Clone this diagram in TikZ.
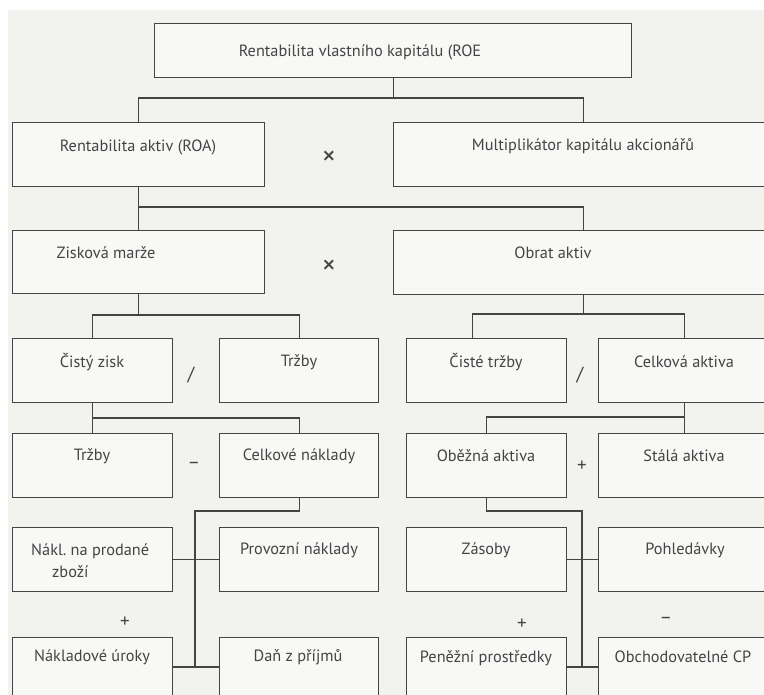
\documentclass[tikz,border=0pt]{standalone}
\usepackage{fontspec}
\setmainfont{PT Sans}
\usetikzlibrary{calc}
\definecolor{bg}{HTML}{F2F2EE}
\definecolor{boxfill}{HTML}{F8F8F6}
\definecolor{ln}{HTML}{444444}
\definecolor{txt}{HTML}{444444}
\newcommand\diabox[5]{\node[box, anchor=north west, minimum width={(#4-#2)*1pt}, minimum height={(#5-#3)*1pt}] (#1) at (#2,#3) {};}
\begin{document}
\begin{tikzpicture}[x=1pt,y=-1pt,
  box/.style={draw=ln, line width=1.2pt, fill=boxfill, inner sep=0pt},
  conn/.style={draw=ln, line width=1.1pt},
  lbl/.style={text=txt, inner sep=0pt, font=\fontsize{16.3}{22}\selectfont},
  op/.style={text=txt, inner sep=0pt, font=\fontsize{19}{22}\selectfont},
  timesop/.style={text=txt, inner sep=0pt, font=\fontsize{28}{30}\selectfont}]
\useasboundingbox (0,0) rectangle (764,695);
\fill[white] (0,0) rectangle (764,695);
\fill[bg] (8,10) rectangle (764,695);
% boxes
\diabox{roe}{154}{23}{631}{77}
\diabox{roa}{12}{122}{264}{186}
\diabox{mult}{393}{122}{773}{186}
\diabox{zm}{12}{230}{264}{293}
\diabox{oa}{393}{230}{773}{294}
\diabox{cz}{12}{338}{172}{402}
\diabox{tra}{219}{338}{378}{402}
\diabox{ct}{406}{338}{566}{402}
\diabox{ca}{598}{338}{770}{402}
\diabox{trb}{12}{433}{172}{497}
\diabox{cn}{219}{433}{378}{497}
\diabox{ob}{406}{433}{566}{497}
\diabox{st}{598}{433}{770}{497}
\diabox{nz}{12}{527}{172}{591}
\diabox{pn}{219}{527}{378}{591}
\diabox{zs}{406}{527}{566}{591}
\diabox{ph}{598}{527}{770}{591}
\diabox{nu}{12}{637}{172}{710}
\diabox{dp}{219}{637}{378}{710}
\diabox{pp}{406}{637}{566}{710}
\diabox{oc}{598}{637}{770}{710}
% texts
\node[lbl] (roe-t) at (360,52) {Rentabilita vlastního kapitálu (ROE};
\node[lbl] (roa-t) at (138,147) {Rentabilita aktiv (ROA)};
\node[lbl] (mult-t) at (583,146) {Multiplikátor kapitálu akcionářů};
\node[lbl] (zm-t) at (106,253) {Zisková marže};
\node[lbl] (oa-t) at (553,253) {Obrat aktiv};
\node[lbl] (cz-t) at (92,362) {Čistý zisk};
\node[lbl] (tra-t) at (299,362) {Tržby};
\node[lbl] (ct-t) at (486,362) {Čisté tržby};
\node[lbl] (ca-t) at (684,362) {Celková aktiva};
\node[lbl] (trb-t) at (92,456) {Tržby};
\node[lbl] (cn-t) at (299,456) {Celkové náklady};
\node[lbl] (ob-t) at (486,456) {Oběžná aktiva};
\node[lbl] (st-t) at (684,456) {Stálá aktiva};
\node[lbl, align=left, anchor=west] (nz-t) at (31,561) {Nákl.\ na prodané\\\hspace*{21pt}zboží};
\node[lbl] (pn-t) at (299,550) {Provozní náklady};
\node[lbl] (zs-t) at (486,550) {Zásoby};
\node[lbl] (ph-t) at (685,550) {Pohledávky};
\node[lbl] (nu-t) at (92,657) {Nákladové úroky};
\node[lbl] (dp-t) at (298,657) {Daň z příjmů};
\node[lbl] (pp-t) at (486,658) {Peněžní prostředky};
\node[lbl] (oc-t) at (683,657) {Obchodovatelné CP};
% operators
\node[timesop] (op1) at (329,158) {×};
\node[timesop] (op2) at (329,267) {×};
\node[op] (op3) at (191,375) {/};
\node[op] (op4) at (580,375) {/};
\node[op] (op5) at (194,465) {–};
\node[op] (op6) at (582,466) {+};
\node[op] (op7) at (125,622) {+};
\node[op] (op8) at (522,624) {+};
\node[op] (op9) at (666,620) {–};
% connectors
\coordinate (b1) at (0,98);
\coordinate (b2) at (0,207);
\coordinate (b3) at (0,315);
\coordinate (b3r) at (0,314);
\coordinate (b4) at (0,418);
\coordinate (b4r) at (0,417);
\coordinate (b5) at (0,511);
\coordinate (h6) at (0,667);
\coordinate (vl) at (195,0);
\coordinate (vr) at (582,0);
\draw[conn] (roe.south) -- (roe.south |- b1);
\draw[conn] (roa.north) |- (b1 -| mult.north) -- (mult.north);
\draw[conn] (roa.south) -- (zm.north);
\draw[conn] (roa.south |- b2) -| (oa.north);
\draw[conn] (zm.south) -- (zm.south |- b3);
\draw[conn] (cz.north) |- (b3 -| tra.north) -- (tra.north);
\draw[conn] (oa.south) -- (oa.south |- b3r);
\draw[conn] ([xshift=-14pt]ct.north) |- (b3r -| ca.north) -- (ca.north);
\draw[conn] (cz.south) -- (trb.north);
\draw[conn] (cz.south |- b4) -| (cn.north);
\draw[conn] (ca.south) -- (st.north);
\draw[conn] (ca.south |- b4r) -| (ob.north);
\draw[conn] (cn.south) |- (vl |- b5) -- (vl |- h6);
\draw[conn] (nz.east) -- (pn.west);
\draw[conn] (nu.east |- h6) -- (dp.west |- h6);
\draw[conn] (ob.south) |- (vr |- b5) -- (vr |- h6);
\draw[conn] (zs.east) -- (ph.west);
\draw[conn] (pp.east |- h6) -- (oc.west |- h6);
\end{tikzpicture}
\end{document}
